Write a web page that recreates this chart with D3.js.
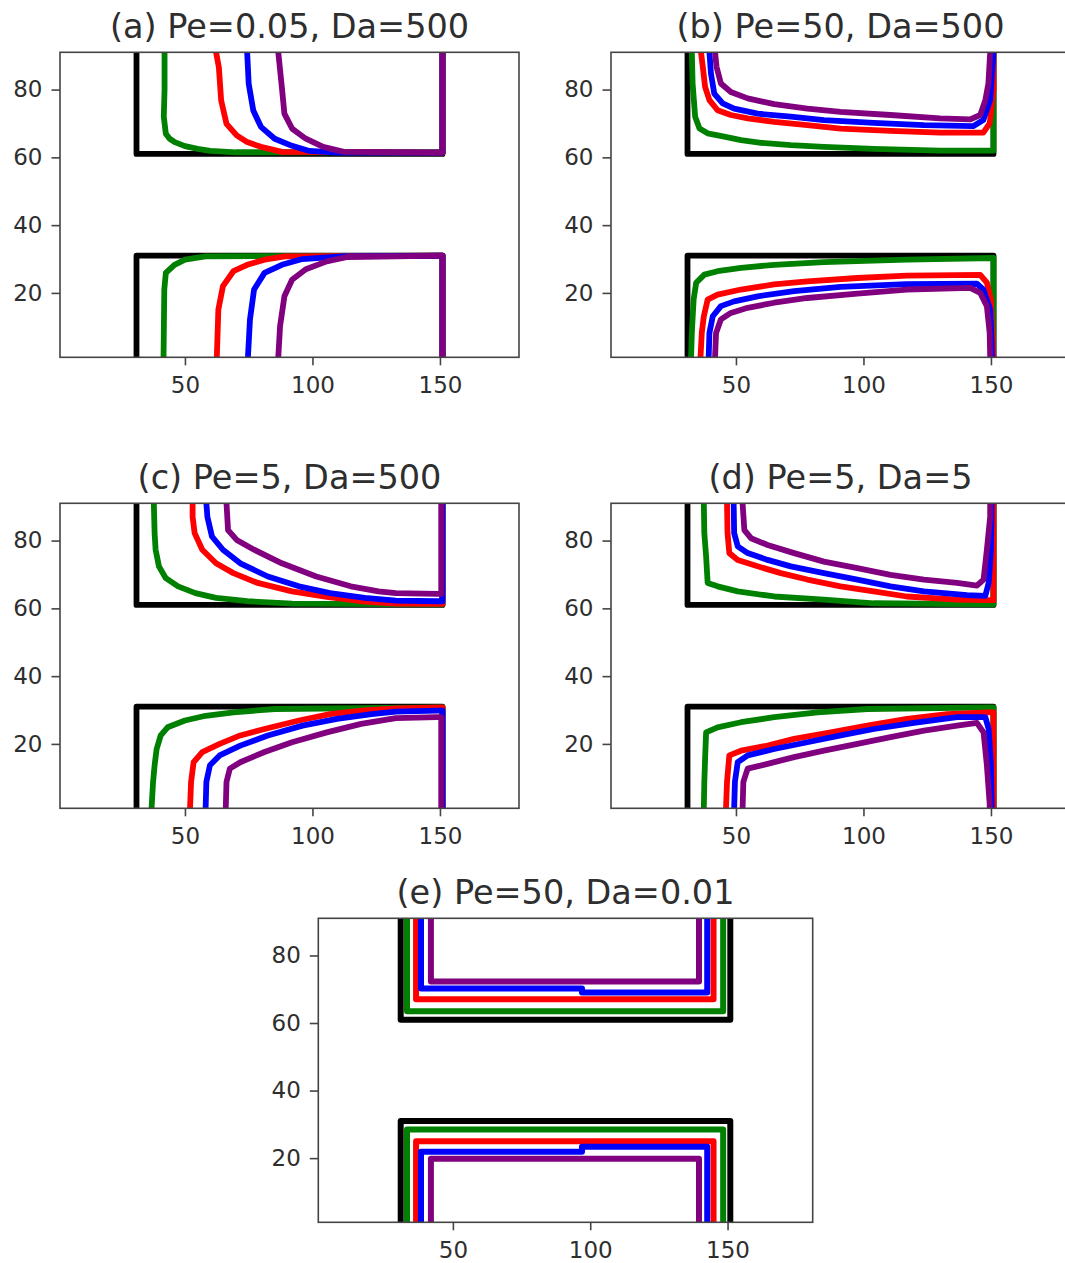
<!DOCTYPE html>
<html>
<head>
<meta charset="utf-8">
<script src="https://cdn.jsdelivr.net/npm/d3@7"></script>
<style>
  html, body { margin: 0; padding: 0; background: #fff; }
  svg { display: block; }
  text { font-family: "DejaVu Sans", sans-serif; }
</style>
</head>
<body>
<svg id="chart" width="1065" height="1263"></svg>
<script>
// ---------------- data ----------------
const xTicks = [50, 100, 150];
const yTicks = [20, 40, 60, 80];
const xDomain = [1, 181];
const yDomain = [1, 91];
const seriesNames = ["t0", "t1", "t2", "t3", "t4"];
const titles = ["(a) Pe=0.05, Da=500", "(b) Pe=50, Da=500", "(c) Pe=5, Da=500", "(d) Pe=5, Da=5", "(e) Pe=50, Da=0.01"];

// initial solid boundary (black), shared by all panels
const blackUpper = [[31,91],[31,61],[151,61],[151,91]];
const blackLower = [[31,1],[31,31],[151,31],[151,1]];

// (a) Pe=0.05, Da=500
const aGreenUp  = [[42,91],[42,80],[41.7,72],[42.5,67],[44,65.5],[46,64.5],[50,63.3],[55,62.5],[60,61.9],[70,61.5],[151,61.5],[151,91]];
const aRedUp    = [[62.2,91],[63.3,86.6],[64.2,76.8],[66.3,69.9],[70.3,66.5],[74.4,64.5],[79.8,63.1],[88,61.6],[151,61.4],[151,91]];
const aBlueUp   = [[74.4,91],[75,81.7],[76.8,73.8],[79.8,69],[85.2,65.5],[92,63.4],[98.8,61.9],[110,61.4],[151,61.4],[151,91]];
const aPurpleUp = [[86.6,91],[88,80.7],[89,72.9],[92,68.5],[97.4,65.5],[104.2,63.1],[112.3,61.6],[151,61.4],[151,91]];
const aGreenLo  = [[41.6,1],[41.9,21],[42.5,25.9],[45.9,28.3],[50,29.8],[58,30.8],[151,31],[151,1]];
const aRedLo    = [[62.5,1],[63.1,15.1],[64.9,22],[69,26.4],[74.4,28.3],[81.2,29.8],[89.3,30.8],[151,31],[151,1]];
const aBlueLo   = [[74.7,1],[75.5,12.2],[77.1,21],[81.2,25.9],[88,28.3],[96,30],[112,30.8],[151,31],[151,1]];
const aPurpleLo = [[86.6,1],[87.3,10.2],[89,19],[92,23.9],[97.4,27],[105.6,29.3],[113.7,30.6],[151,31],[151,1]];

// (b) Pe=50, Da=500
const bGreenUp  = [[32.7,91],[33,81.8],[34,72],[35.7,68.5],[38.9,67.1],[45.4,66.1],[52,65.1],[59.8,64.3],[71.5,63.6],[84.5,63.1],[104,62.5],[130,62],[151,62],[151,91]];
const bRedUp    = [[36.3,91],[37,86.7],[37.9,80.8],[39.6,76.9],[42.8,73.9],[48,72.5],[54.6,71.5],[65,70.5],[78,69.5],[91,68.5],[110.6,67.8],[130,67.3],[147,67.3],[149.5,70],[151,80],[151,91]];
const bBlueUp   = [[39.6,91],[40.2,84.7],[41.5,78.8],[44.8,75.9],[49.3,74.4],[58.5,72.9],[71.5,72],[84.5,71],[104,70.2],[123.7,69.5],[143,69.2],[147,71],[149.7,76.9],[151,91]];
const bPurpleUp = [[41.8,91],[42.4,86.7],[44.1,81.8],[48,79.3],[54.6,77.4],[65,75.7],[78,74.4],[91,73.4],[110.6,72.5],[130,71.5],[141.9,71.2],[145.8,72.5],[147.8,76.9],[149,81.8],[149.7,91]];
const bGreenLo  = [[32.4,1],[32.7,8.2],[33.4,18],[34.4,23],[37.6,25.4],[42.8,26.4],[52,27.4],[65,28.3],[84.5,29.1],[117,29.8],[151,30.3],[151,1]];
const bRedLo    = [[36.1,1],[36.6,8.2],[37.4,13.1],[38.9,18],[42.8,19.5],[52,21],[65,22.5],[78,23.4],[97.6,24.4],[117,25.1],[145.8,25.3],[148.4,23],[150,18],[151,1]];
const bBlueLo   = [[39.3,1],[39.6,8.2],[40.9,13.1],[44.1,16.1],[49.3,17.5],[58.5,19],[72.8,20.5],[91,21.8],[117,22.6],[144.5,22.7],[147,21],[149.7,15.1],[150.5,1]];
const bPurpleLo = [[41.8,1],[42.2,8.2],[44.1,12.2],[48,14.1],[54.6,15.6],[65,17.1],[78,18.5],[97.6,19.8],[117,21],[141.9,21.5],[145.8,20],[148.4,16.1],[149.5,8.2],[149.7,1]];

// (c) Pe=5, Da=500
const cGreenUp  = [[37.8,91],[38.1,82.2],[38.5,77.3],[39.8,72.4],[42.5,68.9],[47.3,66.5],[54.1,64.5],[62.2,63.1],[74.4,62.1],[92,61.4],[151,61.2],[151,91]];
const cRedUp    = [[53,91],[53,87],[53.8,82.2],[56.8,77.3],[62.2,73.3],[69,70.4],[78.5,67.5],[92,65],[105.6,63.4],[119.1,62.1],[132.7,61.4],[151,61.3],[151,91]];
const cBlueUp   = [[58.4,91],[58.8,87],[60.6,81.2],[64.9,77.3],[71.7,73.3],[82.5,69.4],[94.7,66.5],[106.9,64.5],[120.5,63.1],[132.7,62.3],[148.9,62.1],[151,62.1],[151,67.5],[151,91]];
const cPurpleUp = [[66.3,91],[66.9,83.1],[70.3,80.2],[77.1,77.3],[88,73.3],[101.5,69.4],[115,66.5],[125.9,65],[132.7,64.5],[148.9,64.3],[150.5,64.3],[150.5,91]];
const cGreenLo  = [[36.9,1],[37.5,8.8],[38.1,13.7],[38.9,18.5],[40.5,22.5],[43.2,24.9],[50,26.9],[58.1,28.3],[69,29.3],[85.2,30.3],[151,30.8],[151,1]];
const cRedLo    = [[52,1],[52.4,8.8],[53.4,14.6],[56.8,17.6],[63.6,20],[71.7,22.5],[81.2,24.4],[94.7,26.9],[106.9,28.8],[119.1,29.8],[132.7,30.5],[151,30.8],[151,1]];
const cBlueLo   = [[58.1,1],[58.4,8.8],[59.8,13.7],[63.6,16.6],[71.7,19.5],[82.5,22.5],[96.1,25.4],[109.6,27.4],[123.2,28.8],[132.7,29.5],[148.9,29.8],[151,29.8],[151,25.4],[151,1]];
const cPurpleLo = [[66,1],[66.3,8.8],[67.6,12.7],[71.7,14.6],[81.2,17.6],[92,20.5],[105.6,23.4],[119.1,25.9],[132.7,27.6],[148.9,27.9],[150.5,27.9],[150.5,1]];

// (d) Pe=5, Da=5
const dGreenUp  = [[37.4,91],[37.6,82.2],[38.3,75.3],[38.9,67.5],[42.8,66.5],[50.7,65],[65,63.5],[84.5,62.6],[104,61.5],[151,61.2],[151,91]];
const dRedUp    = [[46.5,91],[46.7,82.2],[47.4,76.3],[50.7,74.3],[58.5,72.4],[67.6,70.4],[78,68.5],[91,66.5],[104,65],[117,63.5],[136.7,62.6],[148.4,62.4],[151,62.4],[151,91]];
const dBlueUp   = [[49.1,91],[49.3,82.2],[50.7,78.3],[54.6,76.3],[62.4,74.3],[71.5,72.4],[84.5,70.4],[97.6,68.5],[110.6,66.5],[123.7,65],[140.6,63.9],[147.8,63.7],[149.1,67.5],[150,77.3],[150.3,91]];
const dPurpleUp = [[52.6,91],[53.3,83.1],[55.9,80.7],[62.4,78.7],[72.8,76.3],[84.5,73.8],[97.6,71.9],[110.6,69.9],[123.7,68.5],[136.7,67.5],[144.5,66.7],[147.1,68.5],[148.4,77.3],[149.7,87],[149.7,91]];
const dGreenLo  = [[37.4,1],[37.6,8.8],[37.9,15.6],[38.3,23.4],[42.8,24.9],[52,26.4],[65,27.9],[82,29.3],[101.5,30.3],[151,30.8],[151,1]];
const dRedLo    = [[46.1,1],[46.5,8.8],[47.4,16.6],[52,18],[62.4,19.5],[72.8,21.5],[87.2,23.4],[101.5,25.4],[117.1,27.4],[132.8,28.8],[148.4,29.3],[151,29.3],[151,1]];
const dBlueLo   = [[49.3,1],[49.6,8.8],[50.7,14.6],[54.6,16.6],[65,18.5],[78,20.5],[91.1,22.5],[104.1,24.4],[119.8,26.2],[136.7,27.9],[147.8,27.9],[149.1,24.4],[150,13.7],[150.3,1]];
const dPurpleLo = [[52.6,1],[52.9,8.8],[54.6,12.7],[62.4,14.1],[72.8,16.1],[84.5,18],[97.6,20],[110.6,22],[123.7,23.9],[136.7,25.4],[144.5,26.2],[147.1,23.4],[148.4,13.7],[149.5,2.4],[149.5,1]];

// (e) Pe=50, Da=0.01
const eGreenUp  = [[33.3,91],[33.3,63.5],[148.4,63.5],[148.4,91]];
const eRedUp    = [[36.6,91],[36.6,67],[144.9,67],[144.9,91]];
const eBlueUp   = [[38.4,91],[38.4,70.2],[97,70.2],[97,69],[142.6,69],[142.6,91]];
const ePurpleUp = [[42,91],[42,72.3],[139.6,72.3],[139.6,91]];
const eGreenLo  = [[33.3,1],[33.3,28.5],[148.4,28.5],[148.4,1]];
const eRedLo    = [[36.6,1],[36.6,25],[144.9,25],[144.9,1]];
const eBlueLo   = [[38.4,1],[38.4,21.9],[97,21.9],[97,23.4],[142.6,23.4],[142.6,1]];
const ePurpleLo = [[42,1],[42,19.8],[139.6,19.8],[139.6,1]];

// ---------------- layout & style ----------------
const colors = ["#000000", "#008000", "#ff0000", "#0000ff", "#800080"];
const layout = [
  { left: 60,    top: 52.3,  width: 459,   height: 305 },
  { left: 611,   top: 52.3,  width: 459,   height: 305 },
  { left: 60,    top: 503.3, width: 459,   height: 305 },
  { left: 611,   top: 503.3, width: 459,   height: 305 },
  { left: 318.3, top: 918.3, width: 494.4, height: 304 }
];
const panelCurves = [
  [[blackUpper, blackLower], [aGreenUp, aGreenLo], [aRedUp, aRedLo], [aBlueUp, aBlueLo], [aPurpleUp, aPurpleLo]],
  [[blackUpper, blackLower], [bGreenUp, bGreenLo], [bRedUp, bRedLo], [bBlueUp, bBlueLo], [bPurpleUp, bPurpleLo]],
  [[blackUpper, blackLower], [cGreenUp, cGreenLo], [cRedUp, cRedLo], [cBlueUp, cBlueLo], [cPurpleUp, cPurpleLo]],
  [[blackUpper, blackLower], [dGreenUp, dGreenLo], [dRedUp, dRedLo], [dBlueUp, dBlueLo], [dPurpleUp, dPurpleLo]],
  [[blackUpper, blackLower], [eGreenUp, eGreenLo], [eRedUp, eRedLo], [eBlueUp, eBlueLo], [ePurpleUp, ePurpleLo]]
];

const svg = d3.select("#chart");
const axisColor = "#444";
const textColor = "#2e2e2e";

layout.forEach((L, i) => {
  const x = d3.scaleLinear().domain(xDomain).range([0, L.width]);
  const y = d3.scaleLinear().domain(yDomain).range([L.height, 0]);
  const g = svg.append("g").attr("transform", `translate(${L.left},${L.top})`);

  const clipId = "clip" + i;
  g.append("clipPath").attr("id", clipId)
    .append("rect").attr("x", 0).attr("y", 0).attr("width", L.width).attr("height", L.height);

  const line = d3.line().x(d => x(d[0])).y(d => y(d[1])).curve(d3.curveLinear);
  const plot = g.append("g").attr("clip-path", `url(#${clipId})`);
  panelCurves[i].forEach((pair, k) => {
    pair.forEach(pts => {
      plot.append("path")
        .attr("d", line(pts))
        .attr("fill", "none")
        .attr("stroke", colors[k])
        .attr("stroke-width", i === 4 ? 6 : 5.8)
        .attr("stroke-linejoin", "round")
        .attr("stroke-linecap", "butt")
        .attr("data-series", seriesNames[k]);
    });
  });

  // frame
  g.append("rect")
    .attr("x", 0).attr("y", 0).attr("width", L.width).attr("height", L.height)
    .attr("fill", "none").attr("stroke", axisColor).attr("stroke-width", 1.6);

  // axes
  const xa = g.append("g").attr("transform", `translate(0,${L.height})`)
    .call(d3.axisBottom(x).tickValues(xTicks).tickSize(8).tickPadding(11.5).tickFormat(d3.format("d")));
  const ya = g.append("g")
    .call(d3.axisLeft(y).tickValues(yTicks).tickSize(8.5).tickPadding(9).tickFormat(d3.format("d")));
  [xa, ya].forEach(a => {
    a.select(".domain").remove();
    a.selectAll(".tick line").attr("stroke", axisColor).attr("stroke-width", 1.6);
    a.selectAll(".tick text")
      .attr("fill", textColor)
      .style("font-family", "'DejaVu Sans', sans-serif")
      .style("font-size", "23px");
  });

  // title
  g.append("text")
    .attr("x", L.width / 2)
    .attr("y", -14)
    .attr("text-anchor", "middle")
    .attr("fill", textColor)
    .style("font-family", "'DejaVu Sans', sans-serif")
    .style("font-size", "33.5px")
    .text(titles[i]);
});
</script>
</body>
</html>
